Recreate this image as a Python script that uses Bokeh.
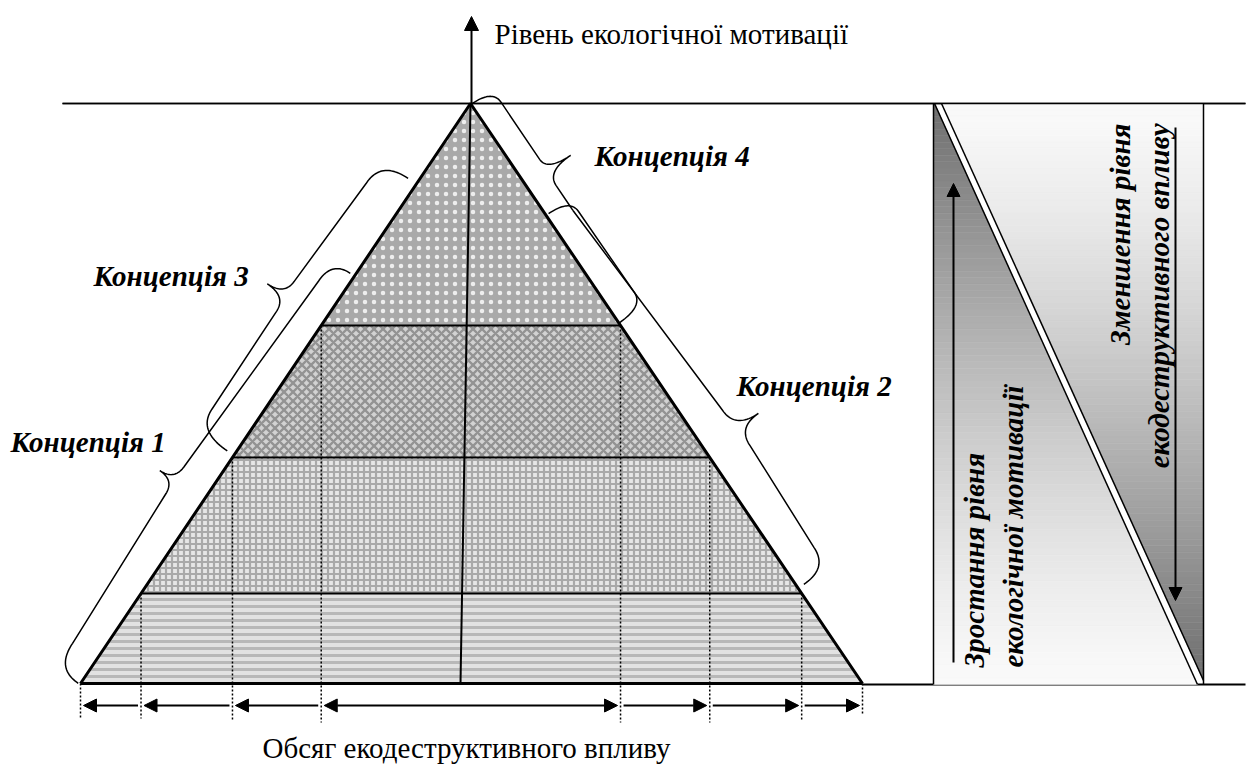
import numpy as np
from bokeh.plotting import figure
from bokeh.models import Range1d, Arrow, NormalHead
from bokeh.core.properties import value
from bokeh.embed import file_html
from bokeh.resources import INLINE

# ---------------- data (page-pixel coordinates of the scheme) ----------------
apex = (470, 103)
base_left, base_right, base_y = 80, 862, 683
level_y = [683, 593, 457, 325, 103]          # level boundaries, bottom -> top
axis_bottom_x = 460
axis_top_y = 16
top_line_y, bottom_line_y = 103, 684
dot_bottom = [717, 718, 720, 722, 722, 722, 720, 713]

axis_title = "Рівень екологічної мотивації"
base_title = "Обсяг екодеструктивного впливу"
concept_labels = ["Концепція 4", "Концепція 3", "Концепція 2", "Концепція 1"]
concept_x = [594, 93, 736, 10]
concept_y = [155, 275, 385, 441]

panel_left, panel_right = 933, 1203
panel_up_text = ["Зростання рівня", "екологічної мотивації"]
panel_up_x = [973, 1012]
panel_down_text = ["Зменшення рівня", "екодеструктивного впливу"]
panel_down_x = [1119, 1158]

# braces in edge frame coords (s along edge from apex, o outward offset)
brace_right = [
    [(1, 1), (16, 26), (85, 26), (99, 54), (116, 25), (140, 25), (146, 25)],     # Концепція 4
    [(146, 25), (146, 25), (395, 37), (418, 65), (440, 40), (560, 36), (585, 7)],  # Концепція 2
]
bracket_right = [[(135, 3), (150, 29), (248, 30), (265, 0)]]
brace_left = [
    [(97, 10), (124, 42), (245, 47), (263, 68), (281, 45), (398, 44), (424, 8)],   # Концепція 3
    [(208, 5), (232, 27), (460, 35), (478, 53), (495, 35), (670, 29), (700, 2)],  # Концепція 1
]

# ---------------- figure ----------------
W, H = 1248, 765
p = figure(width=W, height=H, output_backend="svg", toolbar_location=None,
           x_range=Range1d(0, W), y_range=Range1d(H, 0),
           x_axis_type=None, y_axis_type=None, min_border=0)
p.grid.visible = False
p.outline_line_color = None
p.background_fill_color = "white"

ax, ay = apex
def xl(y):
    return base_left + (base_y - y) * (ax - base_left) / (base_y - ay)
def xr(y):
    return base_right - (base_y - y) * (base_right - ax) / (base_y - ay)

FONT = value("'Liberation Serif', 'Times New Roman', serif")

# ---------------- pyramid levels ----------------
styles = [
    dict(fill_color="#e2e2e2", hatch_pattern="horizontal_line", hatch_color="#b8b8b8", hatch_scale=7, hatch_weight=3),
    dict(fill_color="#e6e6e6", hatch_pattern="cross", hatch_color="#a9a9a9", hatch_scale=6, hatch_weight=2.2),
    dict(fill_color="#d2d2d2", hatch_pattern="diagonal_cross", hatch_color="#939393", hatch_scale=9, hatch_weight=2.3),
    dict(fill_color="#a9a9a9", hatch_pattern="dot", hatch_color="#eeeeee", hatch_scale=9, hatch_weight=1.2),
]
for i in range(4):
    y0, y1 = level_y[i], level_y[i + 1]
    xs = [xl(y0), xr(y0), xr(y1), xl(y1)]
    ys = [y0, y0, y1, y1]
    p.patch(xs, ys, line_color=None, **styles[i])

# dotted verticals
corner_y = [683, 593, 457, 325, 325, 457, 593, 683]
corner_x = [xl(683), xl(593), xl(457), xl(325), xr(325), xr(457), xr(593), xr(683)]
for cx, cy, cb in zip(corner_x, corner_y, dot_bottom):
    p.line([cx, cx], [cy, cb], line_color="black", line_width=1.5, line_dash="2 2")

# level lines
for y in level_y[1:4]:
    p.line([xl(y), xr(y)], [y, y], line_color="black", line_width=2)

# horizontal frame lines
p.line([62, 1245], [top_line_y, top_line_y], line_color="black", line_width=1.5)
p.line([base_right, 1245], [bottom_line_y, bottom_line_y], line_color="black", line_width=1.8)

# pyramid outline
p.line([base_left, ax, base_right], [base_y, ay, base_y], line_color="black", line_width=3)
p.line([base_left, base_right], [base_y, base_y], line_color="black", line_width=3.2)

# central axis
p.line([axis_bottom_x, ax], [base_y, ay], line_color="black", line_width=2)
p.add_layout(Arrow(end=NormalHead(size=14, fill_color="black", line_color="black"),
                   x_start=ax + 1, y_start=ay, x_end=ax + 1, y_end=axis_top_y,
                   line_color="black", line_width=2))

# bottom width arrows
arrow_y = 705
segs = list(zip(corner_x[:-1], corner_x[1:]))
for k, (a, b) in enumerate(segs):
    a2, b2 = a + 3, b - 3
    head = dict(size=13, fill_color="black", line_color="black")
    if k < 3:
        p.add_layout(Arrow(end=NormalHead(**head), x_start=b2, y_start=arrow_y,
                           x_end=a2, y_end=arrow_y, line_color="black", line_width=2))
    elif k == 3:
        p.add_layout(Arrow(end=NormalHead(**head), start=NormalHead(**head),
                           x_start=a2, y_start=arrow_y, x_end=b2, y_end=arrow_y,
                           line_color="black", line_width=2))
    else:
        p.add_layout(Arrow(end=NormalHead(**head), x_start=a2, y_start=arrow_y,
                           x_end=b2, y_end=arrow_y, line_color="black", line_width=2))

# ---------------- braces ----------------
def qbez(p0, c, p1, n=24):
    t = np.linspace(0, 1, n)[:, None]
    p0, c, p1 = map(np.array, (p0, c, p1))
    return (1 - t) ** 2 * p0 + 2 * (1 - t) * t * c + t ** 2 * p1

def brace_pts(k):
    if len(k) == 7:
        e1, a1, b1, tp, a2, b2, e2 = k
        parts = [qbez(e1, (e1[0], a1[1]), a1), np.array([a1, b1]),
                 qbez(b1, (tp[0], b1[1]), tp), qbez(tp, (tp[0], a2[1]), a2),
                 np.array([a2, b2]), qbez(b2, (e2[0], b2[1]), e2)]
    else:
        e1, a1, b1, e2 = k
        parts = [qbez(e1, (e1[0], a1[1]), a1), np.array([a1, b1]),
                 qbez(b1, (e2[0], b1[1]), e2)]
    return np.vstack(parts)

def to_page(pts, side):
    if side == "right":
        u = np.array([base_right - ax, base_y - ay], float)
    else:
        u = np.array([base_left - ax, base_y - ay], float)
    u /= np.linalg.norm(u)
    n = np.array([u[1], -u[0]]) if side == "right" else np.array([-u[1], u[0]])
    P = np.array(apex, float) + pts[:, :1] * u + pts[:, 1:2] * n
    return P[:, 0], P[:, 1]

for k in brace_right + bracket_right:
    x, y = to_page(brace_pts(k), "right")
    p.line(x, y, line_color="black", line_width=1.5)
for k in brace_left:
    x, y = to_page(brace_pts(k), "left")
    p.line(x, y, line_color="black", line_width=1.5)

# ---------------- right panel with gradients ----------------
def grad_strips(x_fixed, hyp_top, hyp_bot, y_top, y_bot, dark_top, n=90):
    xs, ys, cols = [], [], []
    edges = np.linspace(y_top, y_bot, n + 1)
    for i in range(n):
        ya, yb = edges[i], edges[i + 1]
        f = ((ya + yb) / 2 - y_top) / (y_bot - y_top)
        hx = lambda yy: hyp_top + (yy - y_top) / (y_bot - y_top) * (hyp_bot - hyp_top)
        xs.append([x_fixed, hx(ya), hx(yb), x_fixed])
        ys.append([ya, ya, yb, yb])
        v = 250 - 140 * ((1 - f) ** 1.3 if dark_top else f ** 1.3)
        v = int(round(v))
        cols.append("#%02x%02x%02x" % (v, v, v))
    p.patches(xs, ys, fill_color=cols, line_color=cols, line_width=0.6)

grad_strips(panel_left, panel_left + 1, 1197, top_line_y, bottom_line_y, True)
grad_strips(panel_right, 941, panel_right, top_line_y, 680, False)
p.line([panel_left + 1, 1197], [top_line_y, bottom_line_y], line_color="black", line_width=1.5)
p.line([941, panel_right], [top_line_y, 680], line_color="black", line_width=1.5)
p.line([panel_left, panel_left], [top_line_y, bottom_line_y], line_color="black", line_width=1.5)
p.line([panel_right, panel_right], [top_line_y, bottom_line_y], line_color="black", line_width=1.5)
p.line([62, 1245], [top_line_y, top_line_y], line_color="black", line_width=1.5)

p.add_layout(Arrow(end=NormalHead(size=13, fill_color="black", line_color="black"),
                   x_start=953, y_start=662, x_end=953, y_end=183,
                   line_color="black", line_width=2))
p.add_layout(Arrow(end=NormalHead(size=13, fill_color="black", line_color="black"),
                   x_start=1175, y_start=127, x_end=1175, y_end=600,
                   line_color="black", line_width=2))

p.text(x=panel_up_x, y=[667, 667], text=panel_up_text, angle=np.pi / 2,
       text_font=FONT, text_font_size="29px", text_font_style="bold italic",
       text_align="left", text_baseline="middle", text_color="black")
p.text(x=panel_down_x, y=[123, 123], text=panel_down_text, angle=np.pi / 2,
       text_font=FONT, text_font_size="29px", text_font_style="bold italic",
       text_align="right", text_baseline="middle", text_color="black")

# ---------------- labels ----------------
p.text(x=concept_x, y=concept_y, text=concept_labels, text_font=FONT,
       text_font_size="29px", text_font_style="bold italic",
       text_align="left", text_baseline="middle", text_color="black")
p.text(x=[494], y=[33], text=[axis_title], text_font=FONT, text_font_size="29px",
       text_align="left", text_baseline="middle", text_color="black")
p.text(x=[466], y=[747], text=[base_title], text_font=FONT, text_font_size="29px",
       text_align="center", text_baseline="middle", text_color="black")

open("out.html", "w").write(file_html(p, INLINE))
